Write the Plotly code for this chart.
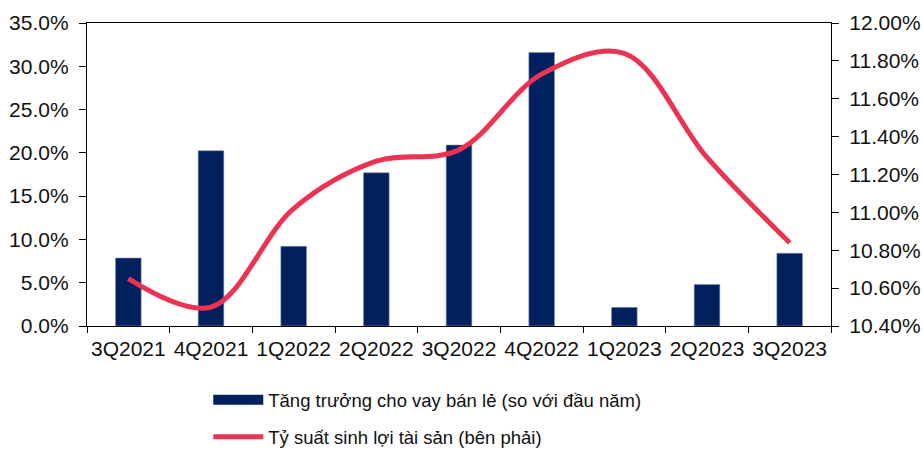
import plotly.graph_objects as go

quarters = ["3Q2021", "4Q2021", "1Q2022", "2Q2022", "3Q2022", "4Q2022", "1Q2023", "2Q2023", "3Q2023"]
loan_growth = [7.85, 20.25, 9.2, 17.7, 20.9, 31.6, 2.15, 4.8, 8.4]
roa = [10.65, 10.50, 11.02, 11.27, 11.33, 11.73, 11.84, 11.29, 10.84]

bar_name = "Tăng trưởng cho vay bán lẻ (so với đầu năm)"
line_name = "Tỷ suất sinh lợi tài sản (bên phải)"

NAVY = "#00215E"
RED = "#EB3353"
FONT = "Liberation Sans, Arial, sans-serif"

fig = go.Figure()
fig.add_trace(go.Bar(
    x=quarters, y=loan_growth, name=bar_name,
    marker=dict(color=NAVY, line=dict(color="#7f8fb0", width=0.6)),
    showlegend=False, yaxis="y",
))
# legend entry for the bars (wide swatch like the reference)
fig.add_trace(go.Scatter(
    x=[None], y=[None], mode="lines", name=bar_name,
    line=dict(color=NAVY, width=12), legend="legend", yaxis="y",
))
fig.add_trace(go.Scatter(
    x=quarters, y=roa, name=line_name, mode="lines",
    line=dict(color=RED, width=5, shape="spline", smoothing=1.0),
    yaxis="y2", legend="legend2",
))

fig.update_layout(
    width=923, height=453,
    margin=dict(l=87, r=92, t=23, b=127, autoexpand=False),
    paper_bgcolor="white", plot_bgcolor="white",
    font=dict(family=FONT, size=21, color="#111111"),
    bargap=0.69,
    xaxis=dict(
        type="category", showline=True, linecolor="black", linewidth=1.3,
        mirror=True, ticks="outside", tickson="boundaries", ticklen=6,
        tickcolor="black", showgrid=False, zeroline=False, tickangle=0,
        ticklabelstandoff=4, automargin=False,
    ),
    yaxis=dict(
        range=[0, 35], dtick=5, tickformat=".1f", ticksuffix="%",
        showline=True, linecolor="black", linewidth=1.3,
        ticks="outside", ticklen=7, tickcolor="black",
        showgrid=False, zeroline=False, ticklabelstandoff=6, automargin=False,
    ),
    yaxis2=dict(
        range=[10.4, 12.0], dtick=0.2, tickformat=".2f", ticksuffix="%",
        overlaying="y", side="right",
        showline=True, linecolor="black", linewidth=1.3,
        ticks="outside", ticklen=7, tickcolor="black",
        showgrid=False, zeroline=False, ticklabelstandoff=6, automargin=False,
    ),
    legend=dict(
        x=0.163, y=-0.182, xanchor="left", yanchor="top",
        font=dict(family=FONT, size=18.5), itemwidth=50,
        bgcolor="rgba(0,0,0,0)",
    ),
    legend2=dict(
        x=0.163, y=-0.304, xanchor="left", yanchor="top",
        font=dict(family=FONT, size=18.5), itemwidth=50,
        bgcolor="rgba(0,0,0,0)",
    ),
)

fig.write_html(
    "out.html",
    config={"displayModeBar": False},
    post_script="document.body.style.margin='0';document.body.style.padding='0';",
)
